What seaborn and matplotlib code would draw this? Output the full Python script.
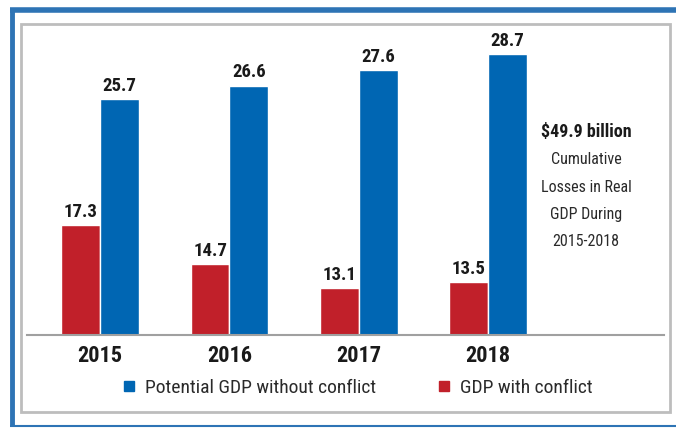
import matplotlib
matplotlib.use("Agg")
import matplotlib.pyplot as plt
from matplotlib import font_manager
from matplotlib.patches import Rectangle
from matplotlib.lines import Line2D
import seaborn as sns
import pandas as pd

years = ["2015", "2016", "2017", "2018"]
gdp_with_conflict = [17.3, 14.7, 13.1, 13.5]
potential_gdp = [25.7, 26.6, 27.6, 28.7]
series_names = ["GDP with conflict", "Potential GDP without conflict"]
annotation_title = "$49.9 billion"
annotation_lines = ["Cumulative", "Losses in Real", "GDP During", "2015-2018"]

RED = "#C1202A"
BLUE = "#0066B3"

df = pd.DataFrame({
    "year": years * 2,
    "value": gdp_with_conflict + potential_gdp,
    "series": [series_names[0]] * 4 + [series_names[1]] * 4,
})

sns.set_theme(style="white")
names = {f.name for f in font_manager.fontManager.ttflist}
family = "DejaVu Sans"
for cand in ["Liberation Sans Narrow", "Roboto Condensed", "Open Sans Condensed",
             "Noto Sans Condensed", "Lato", "Roboto"]:
    if cand in names:
        family = cand
        break
plt.rcParams["font.family"] = [family, "DejaVu Sans"]

W, H = 676, 428
fig = plt.figure(figsize=(W / 100, H / 100), dpi=100)
fig.patch.set_facecolor("white")

def fx(x):
    return x / W

def fy(y):
    return 1 - y / H

# frames
fig.add_artist(Rectangle((fx(21), fy(412)), fx(670) - fx(21), fy(24) - fy(412),
                         transform=fig.transFigure, facecolor="white",
                         edgecolor="#BDBDBD", linewidth=2, zorder=0))
fig.add_artist(Line2D([fx(12), fx(12)], [fy(7.5), fy(426)], transform=fig.transFigure,
                      color="#2E74B5", linewidth=3.5, solid_capstyle="butt"))
fig.add_artist(Line2D([fx(10), fx(676)], [fy(9.5), fy(9.5)], transform=fig.transFigure,
                      color="#2E74B5", linewidth=4, solid_capstyle="butt"))
fig.add_artist(Line2D([fx(10), fx(676)], [fy(426), fy(426)], transform=fig.transFigure,
                      color="#2E74B5", linewidth=1.5, solid_capstyle="butt"))

ax_l, ax_r, ax_t, ax_b = 27, 664, 30, 335
ax = fig.add_axes([fx(ax_l), fy(ax_b), fx(ax_r) - fx(ax_l), fy(ax_t) - fy(ax_b)])
ax.set_facecolor("none")

sns.barplot(data=df, x="year", y="value", hue="series", hue_order=series_names,
            palette=[RED, BLUE], width=0.6, saturation=1, ax=ax, legend=False)

ppu = 15.03
ax.set_ylim(10, 10 + (ax_b - ax_t) / ppu)
ax.set_xlim(-0.565, 4.36)

for container in ax.containers:
    ax.bar_label(container, fmt="%.1f", padding=3, fontsize=13.5, fontweight="bold",
                 color="#1a1a1a")

ax.set_xlabel("")
ax.set_ylabel("")
ax.set_yticks([])
ax.tick_params(axis="x", length=0, pad=7, labelsize=16)
for lbl in ax.get_xticklabels():
    lbl.set_fontweight("bold")
    lbl.set_color("#1a1a1a")
for s in ["top", "right", "left"]:
    ax.spines[s].set_visible(False)
ax.spines["bottom"].set_color("#A0A0A0")
ax.spines["bottom"].set_linewidth(1.5)

# annotation
cx = fx(586)
fig.text(cx, fy(132), annotation_title, ha="center", va="center", fontsize=13,
         fontweight="bold", color="#1a1a1a")
for i, line in enumerate(annotation_lines):
    fig.text(cx, fy(160 + 27.3 * i), line, ha="center", va="center", fontsize=11.5,
             color="#2a2a2a")

# legend (two single-entry legends for exact placement)
for color, label, x0 in [(BLUE, series_names[1], 121), (RED, series_names[0], 436)]:
    h = Line2D([], [], marker="s", linestyle="none", markersize=7, color=color)
    fig.legend([h], [label], frameon=False, loc="center left",
               bbox_to_anchor=(fx(x0), fy(388)), fontsize=14, handlelength=0.8,
               handletextpad=0.45, borderpad=0, borderaxespad=0, labelcolor="#2a2a2a")

fig.savefig("out.png", dpi=100, facecolor="white")
